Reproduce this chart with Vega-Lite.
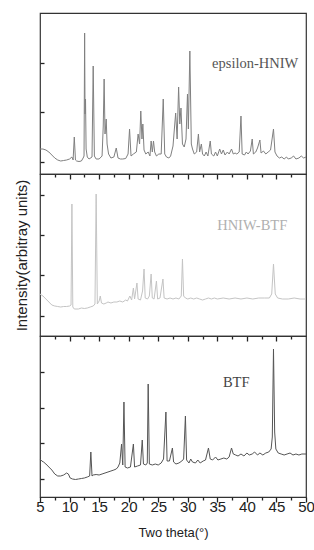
{
  "$schema": "https://vega.github.io/schema/vega-lite/v6.json",
  "background": "white",
  "padding": {"left": 13, "top": 12, "right": 8, "bottom": 5},
  "spacing": 0,
  "bounds": "flush",
  "config": {
    "view": {"stroke": "#333", "strokeWidth": 1.2},
    "axis": {"domain": false, "grid": false, "zindex": 2, "tickColor": "#222", "tickWidth": 1.3, "labelOverlap": false, "labelSeparation": -15, "labelFont": "Liberation Sans", "titleFont": "Liberation Sans", "labelColor": "#222", "titleColor": "#222", "titleFontWeight": "normal"},
    "axisX": {"ticks": true, "grid": false},
    "axisY": {"tickSize": -4}
  },
  "datasets": {
    "eps": [
      {"t":5.0,"i":25},{"t":5.5,"i":25},{"t":6.0,"i":24},{"t":6.5,"i":22},{"t":7.0,"i":19},{"t":7.5,"i":16},{"t":8.0,"i":14},{"t":8.5,"i":13},{"t":9.0,"i":13.5},{"t":9.5,"i":14},{"t":10.0,"i":15},{"t":10.4,"i":17},{"t":10.6,"i":14},{"t":10.8,"i":37},{"t":11.0,"i":14},{"t":11.2,"i":13},{"t":11.6,"i":12.5},{"t":12.0,"i":13},{"t":12.3,"i":16},{"t":12.45,"i":18},{"t":12.55,"i":141},{"t":12.62,"i":60},{"t":12.7,"i":75},{"t":12.8,"i":25},{"t":13.0,"i":17},{"t":13.3,"i":15},{"t":13.8,"i":17},{"t":14.0,"i":108},{"t":14.2,"i":18},{"t":14.5,"i":15},{"t":15.0,"i":15},{"t":15.5,"i":18},{"t":15.7,"i":48},{"t":15.85,"i":95},{"t":16.0,"i":40},{"t":16.2,"i":55},{"t":16.35,"i":30},{"t":16.6,"i":20},{"t":17.0,"i":16},{"t":17.5,"i":17},{"t":17.9,"i":26},{"t":18.2,"i":16},{"t":18.6,"i":15},{"t":19.0,"i":15},{"t":19.5,"i":15.5},{"t":19.9,"i":20},{"t":20.15,"i":45},{"t":20.4,"i":18},{"t":20.8,"i":20},{"t":21.3,"i":22},{"t":21.6,"i":40},{"t":21.85,"i":30},{"t":22.05,"i":63},{"t":22.25,"i":35},{"t":22.4,"i":50},{"t":22.6,"i":24},{"t":22.9,"i":20},{"t":23.3,"i":22},{"t":23.6,"i":18},{"t":23.8,"i":33},{"t":24.0,"i":22},{"t":24.2,"i":33},{"t":24.4,"i":22},{"t":24.7,"i":18},{"t":25.1,"i":20},{"t":25.5,"i":20},{"t":25.85,"i":75},{"t":26.1,"i":20},{"t":26.4,"i":17},{"t":26.8,"i":16},{"t":27.1,"i":18},{"t":27.5,"i":28},{"t":27.95,"i":61},{"t":28.2,"i":35},{"t":28.45,"i":87},{"t":28.65,"i":50},{"t":28.85,"i":66},{"t":29.1,"i":30},{"t":29.4,"i":27},{"t":29.7,"i":35},{"t":29.95,"i":80},{"t":30.1,"i":45},{"t":30.35,"i":123},{"t":30.6,"i":30},{"t":30.8,"i":25},{"t":31.1,"i":20},{"t":31.5,"i":22},{"t":31.8,"i":40},{"t":32.0,"i":22},{"t":32.3,"i":30},{"t":32.5,"i":20},{"t":32.8,"i":18},{"t":33.1,"i":22},{"t":33.4,"i":18},{"t":33.8,"i":33},{"t":34.0,"i":20},{"t":34.4,"i":18},{"t":34.7,"i":22},{"t":35.0,"i":18},{"t":35.4,"i":25},{"t":35.7,"i":20},{"t":36.0,"i":24},{"t":36.3,"i":19},{"t":36.7,"i":22},{"t":37.0,"i":20},{"t":37.4,"i":25},{"t":37.7,"i":20},{"t":38.0,"i":21},{"t":38.3,"i":20},{"t":38.7,"i":22},{"t":39.0,"i":58},{"t":39.2,"i":20},{"t":39.6,"i":19},{"t":39.9,"i":22},{"t":40.2,"i":20},{"t":40.6,"i":23},{"t":40.9,"i":35},{"t":41.1,"i":20},{"t":41.5,"i":22},{"t":41.8,"i":26},{"t":42.2,"i":34},{"t":42.4,"i":21},{"t":42.8,"i":23},{"t":43.2,"i":20},{"t":43.6,"i":22},{"t":44.0,"i":24},{"t":44.5,"i":45},{"t":44.75,"i":22},{"t":45.1,"i":18},{"t":45.5,"i":16},{"t":45.9,"i":17},{"t":46.3,"i":15},{"t":46.7,"i":17},{"t":47.0,"i":15},{"t":47.5,"i":16},{"t":47.9,"i":18},{"t":48.3,"i":15},{"t":48.8,"i":16},{"t":49.2,"i":18},{"t":49.6,"i":16},{"t":50.0,"i":17}
    ],
    "mix": [
      {"t":5.0,"i":42},{"t":5.5,"i":40},{"t":6.0,"i":37},{"t":6.5,"i":34},{"t":7.0,"i":31},{"t":7.5,"i":30},{"t":8.0,"i":29.5},{"t":8.5,"i":29},{"t":9.0,"i":29.5},{"t":9.5,"i":29.5},{"t":10.0,"i":30},{"t":10.25,"i":31},{"t":10.4,"i":132},{"t":10.55,"i":29},{"t":10.8,"i":27},{"t":11.5,"i":27},{"t":12.0,"i":28},{"t":12.5,"i":27.5},{"t":13.0,"i":28},{"t":13.5,"i":29},{"t":14.0,"i":30},{"t":14.3,"i":32},{"t":14.5,"i":142},{"t":14.7,"i":32},{"t":15.0,"i":35},{"t":15.2,"i":40},{"t":15.4,"i":33},{"t":15.8,"i":32},{"t":16.2,"i":33},{"t":16.5,"i":34},{"t":17.0,"i":33},{"t":17.5,"i":34},{"t":18.0,"i":34},{"t":18.5,"i":35},{"t":19.0,"i":34},{"t":19.5,"i":36},{"t":19.8,"i":35},{"t":20.2,"i":40},{"t":20.5,"i":36},{"t":20.8,"i":48},{"t":21.0,"i":37},{"t":21.4,"i":53},{"t":21.6,"i":37},{"t":22.0,"i":36},{"t":22.35,"i":45},{"t":22.6,"i":67},{"t":22.8,"i":38},{"t":23.2,"i":37},{"t":23.5,"i":40},{"t":23.8,"i":62},{"t":24.0,"i":38},{"t":24.3,"i":37},{"t":24.7,"i":55},{"t":24.9,"i":37},{"t":25.3,"i":38},{"t":25.8,"i":57},{"t":26.0,"i":38},{"t":26.5,"i":37},{"t":27.0,"i":38},{"t":27.5,"i":37},{"t":28.0,"i":38},{"t":28.5,"i":37},{"t":28.9,"i":40},{"t":29.1,"i":77},{"t":29.3,"i":40},{"t":29.6,"i":38},{"t":30.0,"i":37},{"t":30.5,"i":38},{"t":31.0,"i":37},{"t":31.5,"i":38},{"t":32.0,"i":37},{"t":32.5,"i":36},{"t":33.0,"i":37},{"t":33.5,"i":38},{"t":34.0,"i":37},{"t":34.5,"i":38},{"t":35.0,"i":37},{"t":36.0,"i":38},{"t":37.0,"i":37},{"t":38.0,"i":38},{"t":39.0,"i":37},{"t":40.0,"i":38},{"t":41.0,"i":37},{"t":42.0,"i":38},{"t":43.0,"i":38},{"t":43.8,"i":38},{"t":44.2,"i":42},{"t":44.5,"i":72},{"t":44.8,"i":42},{"t":45.2,"i":38},{"t":46.0,"i":37},{"t":47.0,"i":37},{"t":48.0,"i":38},{"t":49.0,"i":37},{"t":50.0,"i":37}
    ],
    "btf": [
      {"t":5.0,"i":38},{"t":5.3,"i":36},{"t":5.6,"i":35},{"t":6.0,"i":33},{"t":6.5,"i":30},{"t":7.0,"i":27},{"t":7.5,"i":23},{"t":8.0,"i":21},{"t":8.5,"i":21},{"t":9.0,"i":22},{"t":9.5,"i":24},{"t":9.8,"i":23},{"t":10.1,"i":19},{"t":10.5,"i":18},{"t":11.0,"i":17.5},{"t":11.5,"i":18},{"t":12.0,"i":18.5},{"t":12.5,"i":19},{"t":13.0,"i":20},{"t":13.4,"i":21},{"t":13.6,"i":45},{"t":13.8,"i":21},{"t":14.0,"i":22},{"t":14.5,"i":22.5},{"t":15.0,"i":22},{"t":15.5,"i":23},{"t":16.0,"i":24},{"t":16.5,"i":25},{"t":17.0,"i":26},{"t":17.5,"i":27},{"t":17.9,"i":28},{"t":18.2,"i":30},{"t":18.5,"i":34},{"t":18.8,"i":53},{"t":19.0,"i":32},{"t":19.2,"i":95},{"t":19.4,"i":30},{"t":19.8,"i":29},{"t":20.3,"i":30},{"t":20.8,"i":53},{"t":21.0,"i":30},{"t":21.5,"i":31},{"t":22.0,"i":32},{"t":22.3,"i":57},{"t":22.5,"i":33},{"t":22.9,"i":32},{"t":23.15,"i":34},{"t":23.3,"i":113},{"t":23.5,"i":33},{"t":24.0,"i":32},{"t":24.5,"i":33},{"t":25.0,"i":32},{"t":25.5,"i":34},{"t":25.9,"i":38},{"t":26.3,"i":85},{"t":26.5,"i":36},{"t":26.9,"i":36},{"t":27.4,"i":49},{"t":27.6,"i":35},{"t":28.0,"i":33},{"t":28.5,"i":34},{"t":29.0,"i":36},{"t":29.3,"i":38},{"t":29.6,"i":81},{"t":29.8,"i":37},{"t":30.2,"i":34},{"t":30.5,"i":38},{"t":30.8,"i":35},{"t":31.3,"i":34},{"t":31.7,"i":37},{"t":32.1,"i":34},{"t":32.6,"i":36},{"t":33.0,"i":37},{"t":33.5,"i":49},{"t":33.8,"i":38},{"t":34.2,"i":37},{"t":34.7,"i":40},{"t":35.1,"i":37},{"t":35.6,"i":38},{"t":36.1,"i":39},{"t":36.6,"i":38},{"t":37.0,"i":40},{"t":37.4,"i":49},{"t":37.7,"i":43},{"t":38.1,"i":42},{"t":38.5,"i":41},{"t":39.0,"i":43},{"t":39.5,"i":41},{"t":40.0,"i":44},{"t":40.4,"i":42},{"t":40.9,"i":43},{"t":41.3,"i":45},{"t":41.8,"i":42},{"t":42.2,"i":44},{"t":42.7,"i":42},{"t":43.2,"i":44},{"t":43.7,"i":45},{"t":44.1,"i":48},{"t":44.3,"i":60},{"t":44.5,"i":148},{"t":44.7,"i":65},{"t":44.9,"i":48},{"t":45.3,"i":44},{"t":45.8,"i":43},{"t":46.3,"i":42},{"t":46.8,"i":43},{"t":47.3,"i":44},{"t":47.8,"i":42},{"t":48.3,"i":43},{"t":48.8,"i":42},{"t":49.3,"i":43},{"t":50.0,"i":43}
    ],
    "labels": [
      {"p":"eps","name":"epsilon-HNIW","t":41.4,"i":110},
      {"p":"mix","name":"HNIW-BTF","t":40.9,"i":110},
      {"p":"btf","name":"BTF","t":38.2,"i":114}
    ]
  },
  "vconcat": [
    {
      "width": 266, "height": 161,
      "resolve": {"axis": {"x": "independent"}},
      "layer": [
        {
          "data": {"name": "eps"},
          "mark": {"type": "line", "color": "#808080", "strokeWidth": 1},
          "encoding": {
            "x": {"field": "t", "type": "quantitative", "scale": {"domain": [5, 50], "nice": false},
                  "axis": {"orient": "bottom", "title": null, "labels": false, "values": [10,15,20,25,30,35,40,45], "tickSize": 5}},
            "y": {"field": "i", "type": "quantitative", "scale": {"domain": [0, 161], "nice": false, "zero": false},
                  "axis": {"title": null, "labels": false, "values": [12,24.5,37,49.5,62,74,86.5,99,111,123.5,136,148]}}
          }
        },
        {
          "data": {"name": "labels"},
          "transform": [{"filter": "datum.p === 'eps'"}],
          "mark": {"type": "text", "font": "Liberation Serif", "fontSize": 14.5, "color": "#555"},
          "encoding": {
            "x": {"field": "t", "type": "quantitative",
                  "axis": {"orient": "bottom", "title": null, "labels": false, "values": [7.5,12.5,17.5,22.5,27.5,32.5,37.5,42.5,47.5], "tickSize": 3}},
            "y": {"field": "i", "type": "quantitative"},
            "text": {"field": "name"}
          }
        }
      ]
    },
    {
      "width": 266, "height": 162,
      "resolve": {"axis": {"x": "independent"}},
      "layer": [
        {
          "data": {"name": "mix"},
          "mark": {"type": "line", "color": "#c4c4c4", "strokeWidth": 1},
          "encoding": {
            "x": {"field": "t", "type": "quantitative", "scale": {"domain": [5, 50], "nice": false},
                  "axis": {"orient": "bottom", "title": null, "labels": false, "values": [10,15,20,25,30,35,40,45], "tickSize": 5}},
            "y": {"field": "i", "type": "quantitative", "scale": {"domain": [0, 162], "nice": false, "zero": false},
                  "axis": {"title": "Intensity(arbitray units)", "titleFontSize": 15, "titlePadding": 10, "labels": false, "values": [20,41,61,81,101,121,141]}}
          }
        },
        {
          "data": {"name": "labels"},
          "transform": [{"filter": "datum.p === 'mix'"}],
          "mark": {"type": "text", "font": "Liberation Serif", "fontSize": 14.5, "color": "#b0b0b0"},
          "encoding": {
            "x": {"field": "t", "type": "quantitative",
                  "axis": {"orient": "bottom", "title": null, "labels": false, "values": [7.5,12.5,17.5,22.5,27.5,32.5,37.5,42.5,47.5], "tickSize": 3}},
            "y": {"field": "i", "type": "quantitative"},
            "text": {"field": "name"}
          }
        }
      ]
    },
    {
      "width": 266, "height": 161,
      "resolve": {"axis": {"x": "independent"}},
      "layer": [
        {
          "data": {"name": "btf"},
          "mark": {"type": "line", "color": "#555", "strokeWidth": 1},
          "encoding": {
            "x": {"field": "t", "type": "quantitative", "scale": {"domain": [5, 50], "nice": false},
                  "axis": {"orient": "bottom", "title": "Two theta(°)", "titleFontSize": 13, "titlePadding": 11.5, "labelFontSize": 15, "tickSize": 5, "labelPadding": -2.5, "values": [5,10,15,20,25,30,35,40,45,50], "labelFlush": false}},
            "y": {"field": "i", "type": "quantitative", "scale": {"domain": [0, 161], "nice": false, "zero": false},
                  "axis": {"title": null, "labels": false, "values": [18,36,54,72,89,107,125,142]}}
          }
        },
        {
          "data": {"name": "labels"},
          "transform": [{"filter": "datum.p === 'btf'"}],
          "mark": {"type": "text", "font": "Liberation Serif", "fontSize": 14.5, "color": "#444"},
          "encoding": {
            "x": {"field": "t", "type": "quantitative",
                  "axis": {"orient": "bottom", "title": null, "labels": false, "values": [7.5,12.5,17.5,22.5,27.5,32.5,37.5,42.5,47.5], "tickSize": 3}},
            "y": {"field": "i", "type": "quantitative"},
            "text": {"field": "name"}
          }
        }
      ]
    }
  ]
}
